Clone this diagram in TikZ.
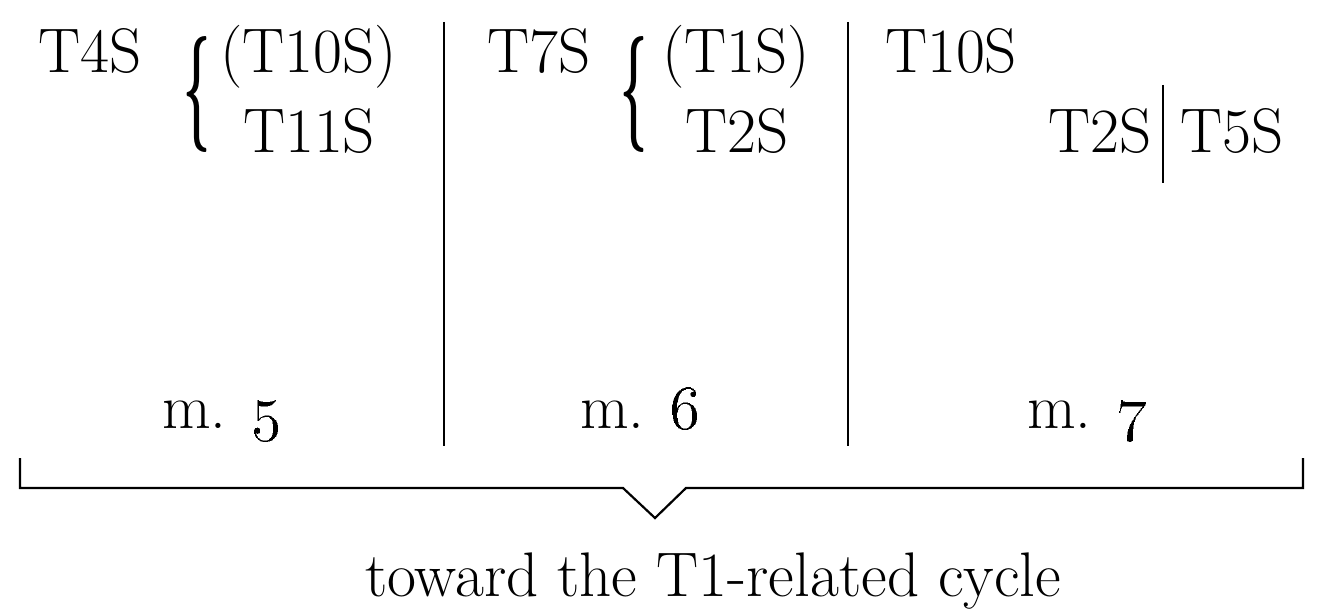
\documentclass[tikz,border=0pt]{standalone}
\usepackage{graphicx}
% old-style figure at the label size
\newcommand{\osnum}[1]{\scalebox{5.25}{\fontsize{12bp}{14bp}\selectfont\oldstylenums{#1}}}
% tall curly brace spanning two lines
\newcommand{\tallbrace}{\resizebox*{27bp}{116bp}{\boldmath$\{$}}
\begin{document}
\begin{tikzpicture}[x=1bp,y=-1bp,
  lbl/.style={inner sep=0pt, outer sep=0pt, anchor=base west, font=\fontsize{63bp}{70bp}\selectfont},
  curly/.style={inner sep=0pt, outer sep=0pt, anchor=west},
  rule/.style={line width=2.2bp, black}]
\useasboundingbox (0,0) rectangle (1319,611);
% first bar
\node[lbl] (t4)   at (38,73)  {T4S};
\node[curly] (br1) at (183,95) {\tallbrace};
\node[lbl] (t10a) at (220,73) {(T10S)};
\node[lbl] (t11)  at (243,153) {T11S};
\node[lbl] (m5)   at (162,428) {m. \osnum{5}};
% second bar
\node[lbl] (t7)   at (487,73) {T7S};
\node[curly] (br2) at (620,95) {\tallbrace};
\node[lbl] (t1)   at (662,73) {(T1S)};
\node[lbl] (t2a)  at (685,153) {T2S};
\node[lbl] (m6)   at (580,428) {m. \osnum{6}};
% third bar
\node[lbl] (t10b) at (885,73) {T10S};
\node[lbl] (t2b)  at (1048,153) {T2S};
\node[lbl] (t5)   at (1180,153) {T5S};
\node[lbl] (m7)   at (1027,428) {m. \osnum{7}};
% bar lines
\coordinate (s1t) at (444,22);  \coordinate (s1b) at (444,446);
\coordinate (s2t) at (848,22);  \coordinate (s2b) at (848,446);
\coordinate (dvt) at (1163,85); \coordinate (dvb) at (1163,183);
\draw[rule] (s1t) -- (s1b);
\draw[rule] (s2t) -- (s2b);
\draw[rule] (dvt) -- (dvb);
% grouping bracket with notch
\coordinate (bl)  at (20,458);
\coordinate (blc) at (20,488);
\coordinate (n1)  at (623,488);
\coordinate (tip) at (655,518);
\coordinate (n2)  at (686,488);
\coordinate (brc) at (1303,488);
\coordinate (br)  at (1303,458);
\draw[rule, line join=miter] (bl) -- (blc) -- (n1) -- (tip) -- (n2) -- (brc) -- (br);
\node[lbl] (cap) at (365,596) {toward the T1-related cycle};
\end{tikzpicture}
\end{document}
